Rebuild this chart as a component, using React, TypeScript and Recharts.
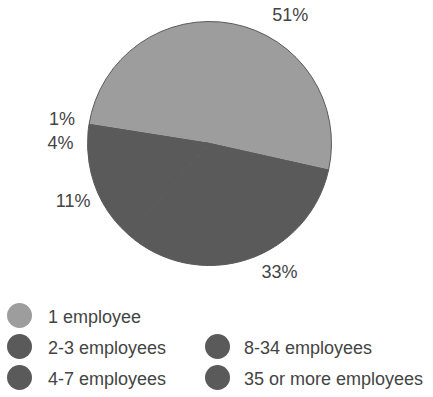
import { PieChart, Pie, Cell } from 'recharts';

const categories = ['1 employee', '2-3 employees', '4-7 employees', '8-34 employees', '35 or more employees'];
const shares = [51, 33, 11, 4, 1];
const percentLabels = ['51%', '33%', '11%', '4%', '1%'];

const LIGHT = '#9d9d9d';
const DARK = '#5a5a5a';
const colors = [LIGHT, DARK, DARK, DARK, DARK];
// small angle shifts so labels sit where the original put them
const labelNudge = [-22, 10, -5, -1, -1];

const data = categories.map((name, i) => ({ name, value: shares[i], label: percentLabels[i] }));

const RAD = Math.PI / 180;

const renderLabel = (props: any) => {
  const { cx, cy, midAngle, outerRadius, index } = props;
  const a = (midAngle + labelNudge[index]) * RAD;
  const r = outerRadius + 27;
  const x = cx + r * Math.cos(a);
  const y = cy - r * Math.sin(a) - 3;
  return (
    <text
      x={x}
      y={y}
      textAnchor="middle"
      dominantBaseline="central"
      fill="#444"
      fontSize={18}
      fontFamily="'Liberation Sans', Arial, sans-serif"
    >
      {percentLabels[index]}
    </text>
  );
};

const App = () => {
  return (
    <div style={{ position: 'absolute', left: 0, top: 0, width: 433, height: 397, background: '#fff' }}>
      <PieChart width={433} height={300}>
        <Pie
          data={data}
          dataKey="value"
          nameKey="name"
          cx={204.5}
          cy={138.5}
          outerRadius={122}
          startAngle={171}
          endAngle={-189}
          label={renderLabel}
          labelLine={false}
          isAnimationActive={false}
        >
          {data.map((d, i) => (
            <Cell key={d.name} fill={colors[i]} stroke={DARK} strokeWidth={1} />
          ))}
        </Pie>
      </PieChart>
      <div
        style={{
          position: 'absolute',
          left: 7,
          top: 302,
          display: 'grid',
          gridTemplateColumns: '198px 230px',
          gridTemplateRows: '31px 31px 31px',
          fontFamily: "'Liberation Sans', Arial, sans-serif",
          fontSize: 18,
          color: '#444',
        }}
      >
        {categories.map((name, i) => (
          <div
            key={name}
            style={{
              gridColumn: i < 3 ? 1 : 2,
              gridRow: i < 3 ? i + 1 : i - 1,
              display: 'flex',
              alignItems: 'center',
            }}
          >
            <span
              style={{
                display: 'inline-block',
                width: 25,
                height: 25,
                borderRadius: '50%',
                background: colors[i],
                marginRight: i < 3 ? 16 : 14,
                position: 'relative',
                top: -2,
              }}
            />
            <span>{name}</span>
          </div>
        ))}
      </div>
    </div>
  );
};

export default App;
